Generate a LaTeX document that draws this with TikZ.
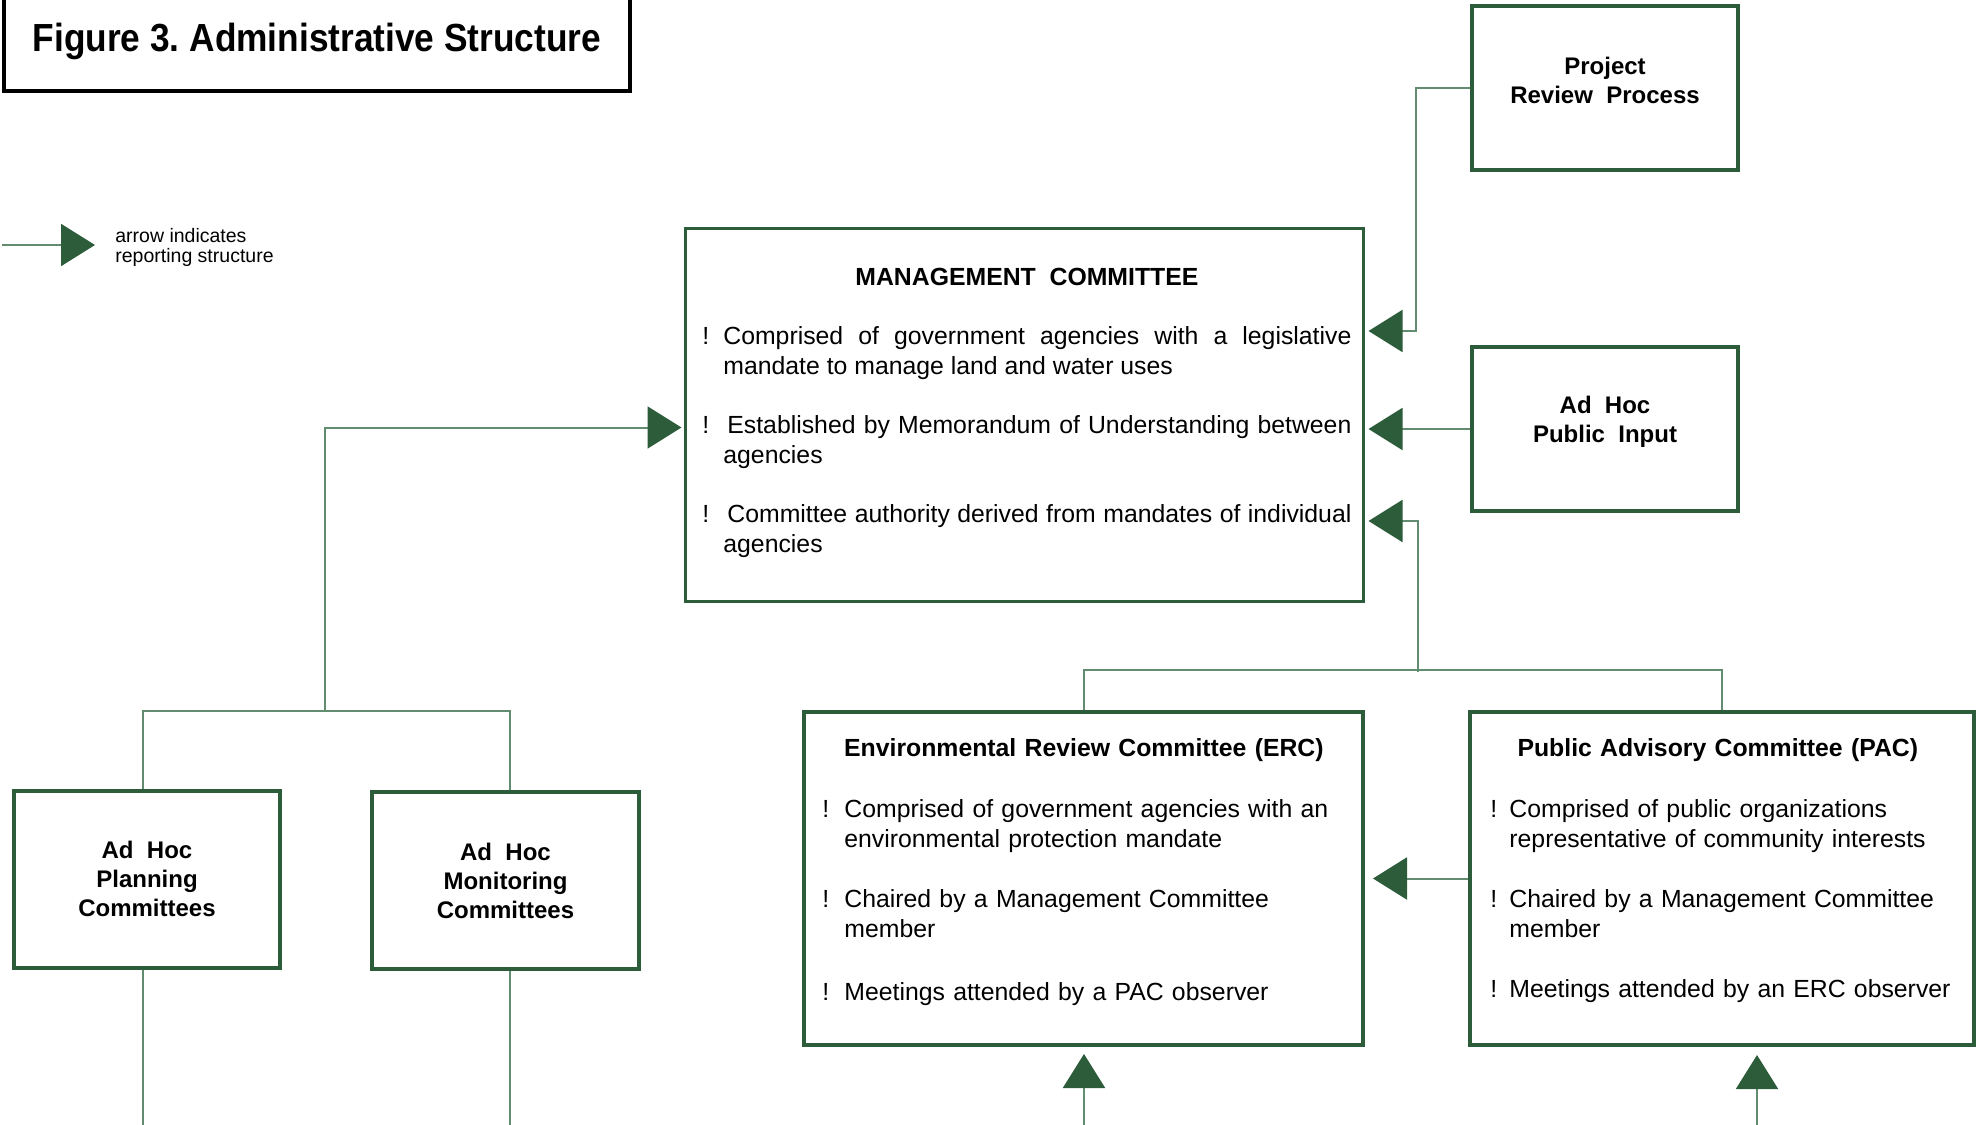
\documentclass[tikz,border=0pt]{standalone}
\usepackage{fontspec}
\setmainfont{Liberation Sans}
\newfontfamily\headfont[FakeStretch=0.9]{Liberation Sans}
\usetikzlibrary{arrows.meta,positioning}
\definecolor{boxgreen}{RGB}{44,92,58}
\definecolor{linegreen}{RGB}{98,140,112}
\newcommand{\bang}[2][10.5pt]{\par\hangindent=#1\hangafter=1\noindent\makebox[#1][l]{!}#2\par}
\tikzset{
    title-box/.style = {draw=black, line width=2pt, rectangle, inner sep=0pt, minimum width=313pt, minimum height=49.5pt, font=\headfont\bfseries\fontsize{19.6}{23}\selectfont},
    heavy-box/.style = {draw=boxgreen, line width=2pt, rectangle, inner sep=0pt, align=center, font=\bfseries\fontsize{12}{14.5}\selectfont},
    box-label/.style = {inner sep=0pt, align=center, font=\bfseries\fontsize{12}{14.5}\selectfont},
    mc-box/.style = {draw=boxgreen, line width=1.5pt, rectangle, inner sep=0pt},
    text-block/.style = {inner sep=0pt, anchor=north west, font=\fontsize{12.4}{15}\selectfont},
    key-text/.style = {inner sep=0pt, anchor=west, align=left, font=\fontsize{9.75}{10}\selectfont},
    feed-line/.style = {draw=linegreen, line width=1pt},
    report-arrow/.style = {feed-line, -{Triangle[length=17pt,width=21pt,color=boxgreen,fill=boxgreen]}},
}
\begin{document}
\begin{tikzpicture}[x=0.5pt, y=-0.5pt]
\useasboundingbox (0,0) rectangle (1983,1125);

% title and key
\node[title-box] (title) at (317,41) {Figure 3.\ Administrative Structure};
\coordinate (key-a) at (2,245);
\coordinate (key-b) at (95,245);
\draw[report-arrow] (key-a) -- (key-b);
\node[key-text] (key) at (115,247.5) {arrow indicates\\reporting structure};

% boxes
\node[mc-box, minimum width=339pt, minimum height=186.5pt] (mc) at (1024,414.5) {};
\node[heavy-box, minimum width=133pt, minimum height=82pt] (prp) at (1605,88) {};
\node[box-label, yshift=3.8pt] (prp-label) at (prp) {Project\\Review\ \ Process};
\node[heavy-box, minimum width=133pt, minimum height=82pt] (pub) at (1605,429) {};
\node[box-label, yshift=3.5pt] (pub-label) at (pub) {Ad\ \ Hoc\\Public\ \ Input};
\node[heavy-box, minimum width=133pt, minimum height=88.5pt] (plan) at (147,879) {Ad\ \ Hoc\\Planning\\Committees};
\node[heavy-box, minimum width=133.5pt, minimum height=88.5pt] (mon) at (505.5,880.5) {Ad\ \ Hoc\\Monitoring\\Committees};
\node[heavy-box, minimum width=279.5pt, minimum height=166.5pt] (erc) at (1083.5,878.5) {};
\node[heavy-box, minimum width=252pt, minimum height=166.5pt] (pac) at (1722,878.5) {};

% box texts
\node[text-block, text width=324.5pt, align=justify] (mc-text) at (702,264) {%
{\centering\strut\bfseries MANAGEMENT\ \ COMMITTEE\par}
\vspace{14.5pt}
\bang{Comprised of government agencies with a legislative\linebreak mandate to manage land and water uses}
\vspace{14.5pt}
\bang{\hspace{2pt}Established by Memorandum of Understanding between\linebreak agencies}
\vspace{14.5pt}
\bang{\hspace{2pt}Committee authority derived from mandates of individual\linebreak agencies}};
\node[text-block, text width=261.5pt, align=left] (erc-text) at (822,735) {%
{\centering\strut\bfseries Environmental Review Committee (ERC)\par}
\vspace{15.5pt}
\bang[11pt]{Comprised of government agencies with an\newline environmental protection mandate}
\vspace{15pt}
\bang[11pt]{Chaired by a Management Committee\newline member}
\vspace{16.75pt}
\bang[11pt]{Meetings attended by a PAC observer}};
\node[text-block, text width=235pt, align=left] (pac-text) at (1490,735) {%
{\centering\hspace*{-7.6pt}\strut\bfseries Public Advisory Committee (PAC)\par}
\vspace{15.5pt}
\bang[9.5pt]{Comprised of public organizations\newline representative of community interests}
\vspace{15pt}
\bang[9.5pt]{Chaired by a Management Committee\newline member}
\vspace{15pt}
\bang[9.5pt]{\mbox{Meetings attended by an ERC observer}}};

% connectors
\coordinate (mc-r1) at (mc.east |- 0,331);
\coordinate (mc-r3) at (mc.east |- 0,521);
\coordinate (mc-l) at (mc.west |- 0,427.5);
\coordinate (fork-r) at (1418,672);
\coordinate (fork-l) at (325,712);
\coordinate (plan-top) at (143,0 |- plan.north);
\coordinate (mon-top) at (510,0 |- mon.north);
\draw[report-arrow, shorten >=2pt] (prp.west) -- ++(-54,0) |- (mc-r1);
\draw[report-arrow, shorten >=2pt] (pub.west) -- (pub.west -| mc.east);
\draw[feed-line] (erc.north) -- ++(0,-40) -| (pac.north);
\draw[report-arrow, shorten >=2pt] (fork-r) |- (mc-r3);
\draw[feed-line] (plan-top) -- ++(0,-78) -| (mon-top);
\draw[report-arrow, shorten >=1pt] (fork-l) |- (mc-l);
\draw[report-arrow, shorten >=4pt] (pac.west) -- (erc.east);

\coordinate (erc-feed) at (1084,1125);
\coordinate (pac-feed) at (1757,1125);
\coordinate (plan-out) at (143,1125);
\coordinate (mon-out) at (510,1125);
\draw[report-arrow, shorten >=3.5pt] (erc-feed) -- (erc-feed |- erc.south);
\draw[report-arrow, shorten >=4pt] (pac-feed) -- (pac-feed |- pac.south);
\draw[feed-line] (plan-out |- plan.south) -- (plan-out);
\draw[feed-line] (mon-out |- mon.south) -- (mon-out);
\end{tikzpicture}
\end{document}
